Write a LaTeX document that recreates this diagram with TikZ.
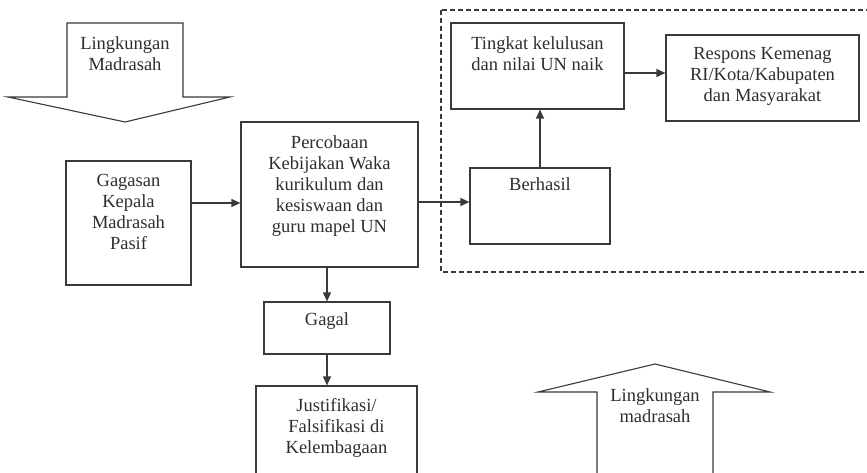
\documentclass[tikz,border=0pt]{standalone}
\usepackage{fontspec}
\setmainfont{Liberation Serif}
\usetikzlibrary{arrows.meta}
\definecolor{ink}{HTML}{3A3A3A}
\definecolor{txtc}{HTML}{2E2E2E}
\begin{document}
\begin{tikzpicture}[x=1pt,y=-1pt,
  box/.style={draw=ink, line width=1.2pt, rectangle, inner sep=0pt},
  txt/.style={text=txtc, font=\fontsize{18.5}{21}\selectfont, align=center, inner sep=0pt, anchor=north},
  arr/.style={draw=ink, line width=1.2pt, -{Triangle[length=9pt,width=8pt]}},
  blockarrow/.style={draw=ink, line width=1.1pt, fill=white, line join=miter}]
\useasboundingbox (0,0) rectangle (867,473);

% dashed frame
\draw[ink, line width=1.1pt, dash pattern=on 5pt off 3pt] (441,10) rectangle (890,272);

% block arrows
\draw[blockarrow] (67,23) -- (183,23) -- (183,97) -- (230,97) -- (125,122) -- (8,97) -- (67,97) -- cycle;
\node[txt] (envtop) at (125,36) {Lingkungan\\Madrasah};

\draw[blockarrow] (597,490) -- (597,392) -- (538,392) -- (655,364) -- (770,392) -- (713,392) -- (713,490);
\node[txt] (envbot) at (655,388) {Lingkungan\\madrasah};

% boxes
\node[box, minimum width=125pt, minimum height=124pt] (gagasan) at (128.5,223) {};
\node[txt] (gagasant) at (128.5,174) {Gagasan\\Kepala\\Madrasah\\Pasif};

\node[box, minimum width=177pt, minimum height=145pt] (percobaan) at (329.5,194.5) {};
\node[txt] (percobaant) at (329.5,135) {Percobaan\\Kebijakan Waka\\kurikulum dan\\kesiswaan dan\\guru mapel UN};

\node[box, minimum width=126pt, minimum height=52pt] (gagal) at (327,328) {};
\node[txt] (gagalt) at (327,312) {Gagal};

\node[box, minimum width=161pt, minimum height=120pt] (just) at (336.5,446) {};
\node[txt] (justt) at (336.5,398) {Justifikasi/\\Falsifikasi di\\Kelembagaan};

\node[box, minimum width=173pt, minimum height=86pt] (tingkat) at (537.5,66) {};
\node[txt] (tingkatt) at (537.5,36) {Tingkat kelulusan\\dan nilai UN naik};

\node[box, minimum width=193pt, minimum height=86pt] (respons) at (762.5,78) {};
\node[txt] (responst) at (762.5,47) {Respons Kemenag\\RI/Kota/Kabupaten\\dan Masyarakat};

\node[box, minimum width=140pt, minimum height=76pt] (berhasil) at (540,206) {};
\node[txt] (berhasilt) at (540,177) {Berhasil};

% connector levels
\coordinate (ya) at (0,203);
\coordinate (yb) at (0,202);
\coordinate (yc) at (0,73);

\draw[arr] (gagasan.east |- ya) -- (percobaan.west |- ya);
\draw[arr] (percobaan.east |- yb) -- (berhasil.west |- yb);
\draw[arr] (percobaan.south -| gagal.north) -- (gagal.north);
\draw[arr] (gagal.south) -- (gagal.south |- just.north);
\draw[arr] (berhasil.north) -- (berhasil.north |- tingkat.south);
\draw[arr] (tingkat.east |- yc) -- (respons.west |- yc);
\end{tikzpicture}
\end{document}
